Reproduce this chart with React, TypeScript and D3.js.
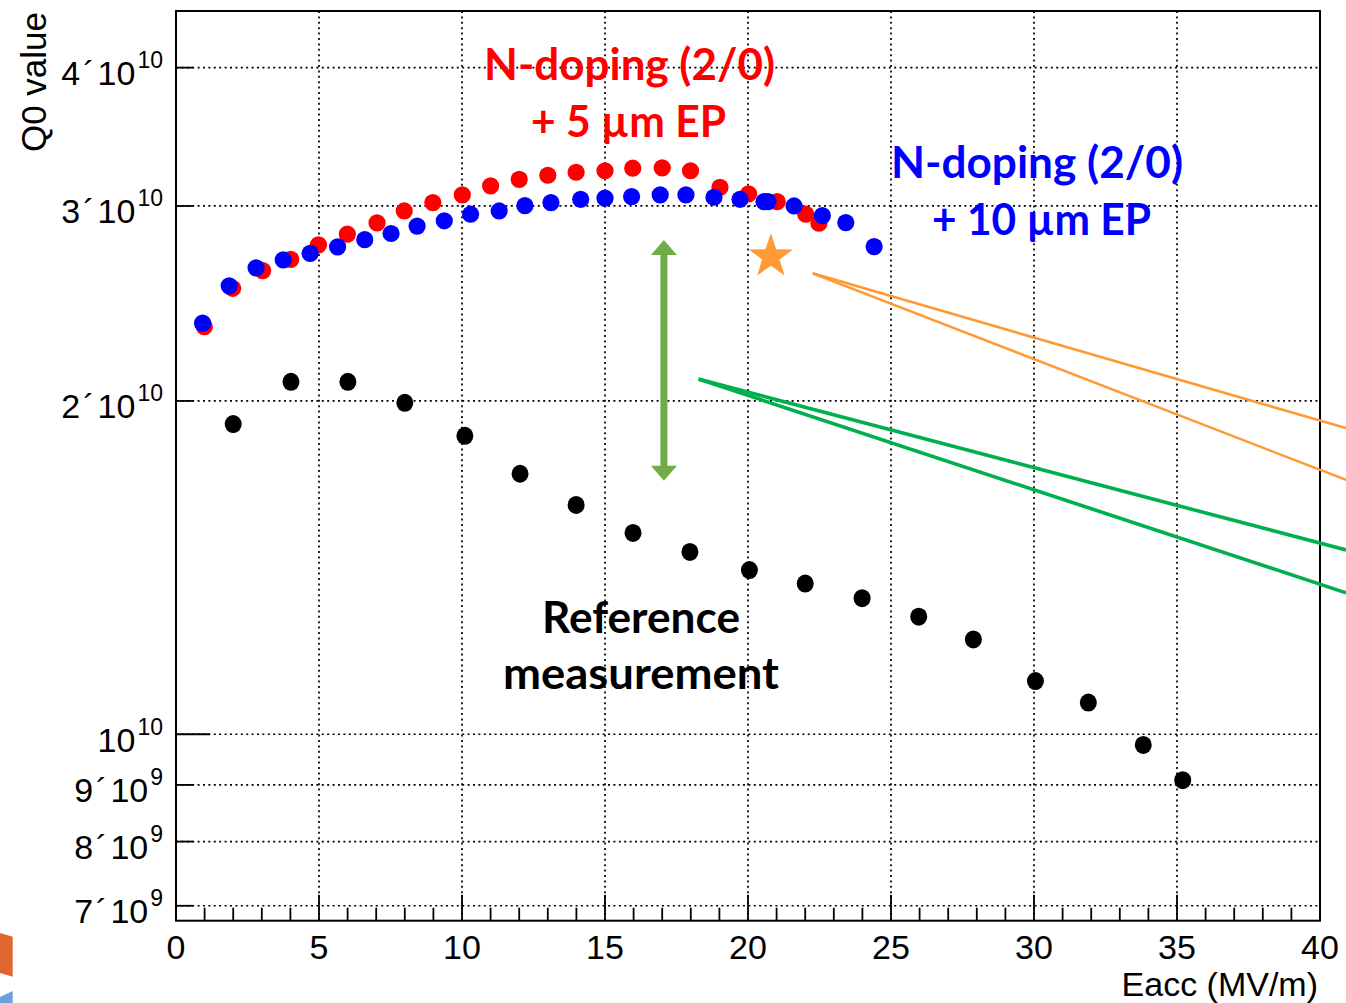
import React from "react";
import * as d3 from "d3";

// ---------- data ----------
const refX = [2, 4.02, 6.01, 8, 10.1, 12.03, 13.99, 15.98, 17.97, 20.05, 22, 23.99, 25.97, 27.88, 30.05, 31.9, 33.82, 35.2];
const refQ = [1.906e10, 2.081e10, 2.081e10, 1.992e10, 1.86e10, 1.719e10, 1.611e10, 1.52e10, 1.461e10, 1.407e10, 1.368e10, 1.327e10, 1.277e10, 1.218e10, 1.117e10, 1.068e10, 0.978e10, 0.909e10];

const ep5X = [0.99, 1.98, 3.03, 4.01, 4.98, 5.99, 7.03, 7.98, 8.98, 10.01, 11.0, 12.0, 13.0, 13.99, 15.0, 15.97, 17.0, 17.99, 19.02, 20.02, 21.02, 22.02, 22.48];
const ep5Q = [2.334e10, 2.528e10, 2.623e10, 2.685e10, 2.767e10, 2.829e10, 2.896e10, 2.969e10, 3.021e10, 3.07e10, 3.128e10, 3.171e10, 3.198e10, 3.218e10, 3.228e10, 3.245e10, 3.247e10, 3.228e10, 3.119e10, 3.076e10, 3.027e10, 2.949e10, 2.894e10];

const ep10X = [0.93, 1.86, 2.8, 3.75, 4.69, 5.65, 6.6, 7.52, 8.43, 9.38, 10.3, 11.3, 12.2, 13.11, 14.15, 15.0, 15.93, 16.93, 17.83, 18.81, 19.72, 20.56, 20.7, 21.61, 22.6, 23.42, 24.41];
const ep10Q = [2.351e10, 2.541e10, 2.638e10, 2.682e10, 2.718e10, 2.755e10, 2.797e10, 2.833e10, 2.877e10, 2.909e10, 2.949e10, 2.969e10, 3.002e10, 3.021e10, 3.042e10, 3.049e10, 3.059e10, 3.07e10, 3.07e10, 3.055e10, 3.042e10, 3.027e10, 3.027e10, 3.0e10, 2.94e10, 2.898e10, 2.757e10];

const starPoint = { x: 20.8, q: 2.7e10 };
const arrowX = 17.06;
const arrowQ = [2.795e10, 1.694e10];
const orangeLines = [
  [[22.26, 2.608e10], [40.91, 1.89e10]],
  [[22.26, 2.608e10], [40.91, 1.697e10]],
];
const greenLines = [
  [[18.27, 2.093e10], [40.91, 1.467e10]],
  [[18.27, 2.093e10], [40.91, 1.342e10]],
];

const xMajorTicks = [0, 5, 10, 15, 20, 25, 30, 35, 40];
const xMinorTicks = d3.range(0, 41, 1);
const yTickVals = [7e9, 8e9, 9e9, 1e10, 2e10, 3e10, 4e10];
const yTickMant = ["7", "8", "9", "", "2", "3", "4"];
const yTickExp = ["9", "9", "9", "10", "10", "10", "10"];

// ---------- layout ----------
const W = 1346;
const H = 1003;
const L = 176, R = 1320, T = 11, B = 920.7;

export default function App() {
  const x = d3.scaleLinear().domain([0, 40]).range([L, R]);
  const y = d3.scaleLog().domain([6.786e9, 4.5e10]).range([B, T]);

  const grid = "#000";
  const dash = "2 3.4";
  const sansTick = "'Liberation Sans', Arial, sans-serif";
  const annFont = "Lato, 'Open Sans', sans-serif";

  const starPath = (() => {
    const cx = x(starPoint.x), cy = y(starPoint.q);
    const Ro = 23.3, Ri = 9.2;
    const pts: string[] = [];
    for (let i = 0; i < 10; i++) {
      const r = i % 2 === 0 ? Ro : Ri;
      const a = -Math.PI / 2 + (i * Math.PI) / 5;
      pts.push(`${cx + r * Math.cos(a)},${cy + r * Math.sin(a)}`);
    }
    return "M" + pts.join("L") + "Z";
  })();

  const ax = x(arrowX);
  const aTop = y(arrowQ[0]);
  const aBot = y(arrowQ[1]);
  const headH = 15, headW = 13, shaftW = 7;
  const arrowPath = `M${ax},${aTop} L${ax + headW},${aTop + headH} L${ax + shaftW / 2},${aTop + headH} L${ax + shaftW / 2},${aBot - headH} L${ax + headW},${aBot - headH} L${ax},${aBot} L${ax - headW},${aBot - headH} L${ax - shaftW / 2},${aBot - headH} L${ax - shaftW / 2},${aTop + headH} L${ax - headW},${aTop + headH} Z`;

  const line = d3.line<number[]>().x((d) => x(d[0])).y((d) => y(d[1]));

  return (
    <svg width={W} height={H} style={{ position: "absolute", left: 0, top: 0, background: "#fff" }}>
      <rect x={0} y={0} width={W} height={H} fill="#fff" />
      {/* decorative corner remnants */}
      <path d="M0,933 L12.7,936.7 L12.7,976.7 L0,973 Z" fill="#e0662f" />
      <path d="M0,997 L12.7,991 L12.7,1003 L0,1003 Z" fill="#6f9fd8" />

      {/* grid */}
      {xMajorTicks.filter((v) => v > 0 && v < 40).map((v) => (
        <line key={"gx" + v} x1={x(v)} x2={x(v)} y1={T} y2={B} stroke={grid} strokeWidth={1.7} strokeDasharray={dash} />
      ))}
      {yTickVals.map((v) => (
        <line key={"gy" + v} x1={L} x2={R} y1={y(v)} y2={y(v)} stroke={grid} strokeWidth={1.7} strokeDasharray={dash} />
      ))}

      {/* x ticks */}
      {xMinorTicks.map((v) => (
        <line key={"tx" + v} x1={x(v)} x2={x(v)} y1={B} y2={B - (v % 5 === 0 ? 26 : 13)} stroke="#000" strokeWidth={1.8} />
      ))}
      {/* y ticks */}
      {yTickVals.map((v) => (
        <line key={"ty" + v} x1={L} x2={L + (v === 1e10 ? 34 : 17)} y1={y(v)} y2={y(v)} stroke="#000" strokeWidth={1.8} />
      ))}

      {/* frame */}
      <rect x={L} y={T} width={R - L} height={B - T} fill="none" stroke="#000" strokeWidth={2} />

      {/* x tick labels */}
      {xMajorTicks.map((v) => (
        <text key={"lx" + v} x={x(v)} y={959} textAnchor="middle" fontFamily={sansTick} fontSize={34} fill="#000">
          {v}
        </text>
      ))}
      {/* y tick labels */}
      {yTickVals.map((v, i) => (
        <text key={"ly" + v} x={163} y={y(v) + 17.5} textAnchor="end" fontFamily={sansTick} fontSize={34} fill="#000">
          {yTickMant[i] !== "" ? (
            <>
              <tspan>{yTickMant[i]}</tspan>
              <tspan dx={3}>´</tspan>
              <tspan dx={3}>10</tspan>
            </>
          ) : (
            <tspan>10</tspan>
          )}
          <tspan dy={-17} dx={2} fontSize={23}>
            {yTickExp[i]}
          </tspan>
        </text>
      ))}

      {/* axis titles */}
      <text x={1318} y={996} textAnchor="end" fontFamily={sansTick} fontSize={34} fill="#000">
        Eacc (MV/m)
      </text>
      <text transform="translate(46,12) rotate(-90)" textAnchor="end" fontFamily={sansTick} fontSize={35} fill="#000">
        Q0 value
      </text>

      {/* annotation lines */}
      {orangeLines.map((l, i) => (
        <path key={"ol" + i} d={line(l) || ""} stroke="#ff9933" strokeWidth={2.5} fill="none" />
      ))}
      {greenLines.map((l, i) => (
        <path key={"gl" + i} d={line(l) || ""} stroke="#00b050" strokeWidth={3.6} fill="none" />
      ))}

      {/* data */}
      {refX.map((v, i) => (
        <ellipse key={"r" + i} cx={x(v)} cy={y(refQ[i])} rx={8.5} ry={9} fill="#000" />
      ))}
      {ep5X.map((v, i) => (
        <circle key={"e5" + i} cx={x(v)} cy={y(ep5Q[i])} r={8.6} fill="#ff0000" />
      ))}
      {ep10X.map((v, i) => (
        <circle key={"e10" + i} cx={x(v)} cy={y(ep10Q[i])} r={8.6} fill="#0000ff" />
      ))}

      {/* star and arrow */}
      <path d={starPath} fill="#ff9a36" />
      <path d={arrowPath} fill="#70ad47" />

      {/* annotation text */}
      <g fontFamily={annFont} fontWeight={700} fontSize={44}>
        <text x={629.5} y={80} textAnchor="middle" fill="#ff0000" textLength={291} lengthAdjust="spacingAndGlyphs">
          N-doping (2/0)
        </text>
        <text x={628.5} y={136.5} textAnchor="middle" fill="#ff0000" textLength={195} lengthAdjust="spacingAndGlyphs">
          + 5 µm EP
        </text>
        <text x={1037} y={178} textAnchor="middle" fill="#0000ff" textLength={292} lengthAdjust="spacingAndGlyphs">
          N-doping (2/0)
        </text>
        <text x={1041.5} y={234.5} textAnchor="middle" fill="#0000ff" textLength={219} lengthAdjust="spacingAndGlyphs">
          + 10 µm EP
        </text>
        <text x={641} y={633} textAnchor="middle" fill="#000" textLength={198} lengthAdjust="spacingAndGlyphs">
          Reference
        </text>
        <text x={641} y={689} textAnchor="middle" fill="#000" textLength={276} lengthAdjust="spacingAndGlyphs">
          measurement
        </text>
      </g>
    </svg>
  );
}
